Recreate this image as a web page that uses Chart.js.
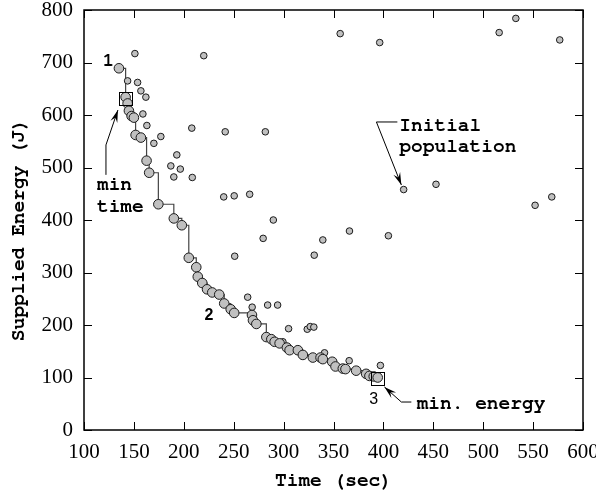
<!DOCTYPE html>
<html>
<head>
<meta charset="utf-8">
<script src="https://cdn.jsdelivr.net/npm/chart.js@4.4.1/dist/chart.umd.min.js"></script>
<style>
  body { margin: 0; background: #fff; }
  canvas { display: block; }
</style>
</head>
<body>
<canvas id="chart" width="596" height="490"></canvas>
<script>
// axis ticks
const xTicks = [100, 150, 200, 250, 300, 350, 400, 450, 500, 550, 600];
const yTicks = [0, 100, 200, 300, 400, 500, 600, 700, 800];

// final front (big circles, joined by the step line)
const frontTime = [135, 141.7, 143.7, 145, 147.7, 150, 151.7, 157, 162.7, 165.3,
  174.5, 190, 198, 205, 212.5, 214, 218.5, 223.3, 228.5, 235.5,
  240.5, 247, 250.5, 268.3, 269.3, 272.7, 282.7, 287.7, 291, 296,
  303.3, 306, 314.3, 319.3, 329.3, 337, 339.3, 348.7, 352, 359.3,
  362, 372.7, 382.7, 386, 390.3, 394.3];
const frontEnergy = [689, 634, 622, 608, 598, 595, 562, 557, 513, 490,
  430, 403, 390, 328, 310, 292, 280, 268, 262, 258,
  241, 230, 223, 219, 209, 202, 177, 173, 168, 165,
  157, 152, 152, 143, 138, 138, 135, 130, 121, 117,
  116, 113, 107, 103, 102, 100];

// other solutions (small circles)
const popTime = [151, 220, 143.7, 153.7, 157, 162, 159, 163, 208, 241.5,
  281.7, 177, 170, 193, 187, 196.5, 190, 208.5, 240, 250.5,
  266, 289.7, 279.5, 339.3, 330.7, 251, 366, 405, 264, 268.5,
  284, 294, 305, 323.7, 326.7, 330.3, 299.3, 341, 365.7, 397,
  356.7, 396.3, 516, 532.7, 576.7, 420.3, 452.7, 552, 568.7];
const popEnergy = [717, 713, 665, 662, 646, 634, 602, 580, 575, 568,
  568, 559, 546, 524, 503, 497, 482, 481, 444, 446,
  449, 400, 365, 362, 333, 331, 379, 370, 253, 234,
  238, 238, 193, 192, 197, 196, 168, 147, 132, 123,
  755, 738, 757, 784, 743, 458, 468, 428, 444];

// annotations, in data units
const MONO = '"FreeMono", "Liberation Mono", monospace';
const SERIF = '"Liberation Serif", "Times New Roman", serif';
const SANS = '"Liberation Sans", Arial, sans-serif';
const labels = [
  { text: '1', x: 124.5, y: 705, font: 'bold 19.5px ' + MONO, align: 'center' },
  { text: 'min', x: 113, y: 468, font: 'bold 19.5px ' + MONO, align: 'left' },
  { text: 'time', x: 113, y: 426, font: 'bold 19.5px ' + MONO, align: 'left' },
  { text: 'Initial', x: 416, y: 581, font: 'bold 19.5px ' + MONO, align: 'left' },
  { text: 'population', x: 416, y: 540, font: 'bold 19.5px ' + MONO, align: 'left' },
  { text: '2', x: 225.3, y: 218, font: 'bold 16px ' + SANS, align: 'center' },
  { text: '3', x: 390.3, y: 58.5, font: '16px ' + SANS, align: 'center' },
  { text: 'min. energy', x: 433.3, y: 51, font: 'bold 19.5px ' + MONO, align: 'left' },
];
const arrows = [
  [[122, 486], [122, 543], [134, 609.5]],
  [[414, 586.7], [393, 586.7], [418, 466.7]],
  [[428, 53.3], [418, 53.3], [401, 82]],
];
const boxes = [[142, 632], [394, 98.5]];

const decorations = {
  id: 'decorations',
  afterDraw(chart) {
    const { ctx, chartArea: a, scales: { x, y } } = chart;
    ctx.save();
    ctx.strokeStyle = '#000';
    ctx.fillStyle = '#000';

    // frame
    ctx.lineWidth = 1.5;
    ctx.strokeRect(a.left, a.top, a.right - a.left, a.bottom - a.top);

    // inward ticks on all sides
    ctx.lineWidth = 1;
    ctx.beginPath();
    xTicks.forEach(v => {
      const px = Math.round(x.getPixelForValue(v)) + 0.5;
      ctx.moveTo(px, a.bottom); ctx.lineTo(px, a.bottom - 8);
      ctx.moveTo(px, a.top); ctx.lineTo(px, a.top + 8);
    });
    yTicks.forEach(v => {
      const py = Math.round(y.getPixelForValue(v)) + 0.5;
      ctx.moveTo(a.left, py); ctx.lineTo(a.left + 8, py);
      ctx.moveTo(a.right, py); ctx.lineTo(a.right - 8, py);
    });
    ctx.stroke();

    // boxes at the two extremes
    boxes.forEach(([bx, by]) => {
      const px = x.getPixelForValue(bx), py = y.getPixelForValue(by);
      ctx.strokeRect(Math.round(px - 6.5) + 0.5, Math.round(py - 6.5) + 0.5, 13, 13);
    });

    // arrows
    arrows.forEach(path => {
      const pts = path.map(([vx, vy]) => [x.getPixelForValue(vx), y.getPixelForValue(vy)]);
      ctx.beginPath();
      ctx.moveTo(pts[0][0], pts[0][1]);
      for (let i = 1; i < pts.length; i++) ctx.lineTo(pts[i][0], pts[i][1]);
      ctx.stroke();
      const [tx, ty] = pts[pts.length - 1];
      const [fx, fy] = pts[pts.length - 2];
      const ang = Math.atan2(ty - fy, tx - fx);
      const len = 13, half = 0.28;
      ctx.beginPath();
      ctx.moveTo(tx, ty);
      ctx.lineTo(tx - len * Math.cos(ang - half), ty - len * Math.sin(ang - half));
      ctx.lineTo(tx - 0.6 * len * Math.cos(ang), ty - 0.6 * len * Math.sin(ang));
      ctx.lineTo(tx - len * Math.cos(ang + half), ty - len * Math.sin(ang + half));
      ctx.closePath();
      ctx.fill();
    });

    // labels
    ctx.textBaseline = 'middle';
    labels.forEach(l => {
      ctx.font = l.font;
      ctx.textAlign = l.align;
      ctx.fillText(l.text, x.getPixelForValue(l.x), y.getPixelForValue(l.y));
    });

    // y axis title
    ctx.translate(18, 230);
    ctx.rotate(-Math.PI / 2);
    ctx.textAlign = 'center';
    ctx.font = 'bold 19.5px ' + MONO;
    ctx.fillText('Supplied Energy (J)', 0, 0);
    ctx.restore();
  }
};

const noPad = s => { s.paddingLeft = 0; s.paddingRight = 0; s.paddingTop = 0; s.paddingBottom = 0; };

function draw() {
  new Chart(document.getElementById('chart'), {
    type: 'scatter',
    data: {
      datasets: [
        {
          type: 'line',
          data: frontTime.map((t, i) => ({ x: t, y: frontEnergy[i] })),
          stepped: true,
          borderColor: '#444',
          borderWidth: 1.2,
          pointRadius: 0,
          fill: false,
          order: 3,
        },
        {
          data: popTime.map((t, i) => ({ x: t, y: popEnergy[i] })),
          backgroundColor: '#c0c0c0',
          borderColor: '#1a1a1a',
          borderWidth: 1,
          pointRadius: 3.3,
          order: 2,
        },
        {
          data: frontTime.map((t, i) => ({ x: t, y: frontEnergy[i] })),
          backgroundColor: '#c0c0c0',
          borderColor: '#1a1a1a',
          borderWidth: 1,
          pointRadius: 4.8,
          order: 1,
        },
      ]
    },
    options: {
      responsive: false,
      animation: false,
      events: [],
      layout: { padding: { left: 0, right: 13, top: 10, bottom: 0 } },
      plugins: { legend: { display: false }, tooltip: { enabled: false } },
      scales: {
        x: {
          type: 'linear',
          min: 100,
          max: 600,
          afterBuildTicks: s => { s.ticks = xTicks.map(v => ({ value: v })); },
          afterFit: s => { s.height = 60; noPad(s); },
          grid: { display: false, drawTicks: false },
          border: { display: false },
          ticks: {
            padding: 10,
            color: '#000',
            maxRotation: 0,
            autoSkip: false,
            font: { family: SERIF, size: 21 },
          },
          title: {
            display: true,
            text: 'Time (sec)',
            color: '#000',
            padding: 0,
            font: { family: MONO, size: 19.5, weight: 'bold', lineHeight: 1 },
          },
        },
        y: {
          type: 'linear',
          min: 0,
          max: 800,
          afterBuildTicks: s => { s.ticks = yTicks.map(v => ({ value: v })); },
          afterFit: s => { s.width = 84; noPad(s); },
          grid: { display: false, drawTicks: false },
          border: { display: false },
          ticks: {
            padding: 11,
            color: '#000',
            autoSkip: false,
            font: { family: SERIF, size: 21 },
          },
        },
      },
    },
    plugins: [decorations],
  });
}

Promise.all([
  document.fonts.load('21px "Liberation Serif"'),
  document.fonts.load('bold 19.5px "FreeMono"'),
  document.fonts.load('bold 16px "Liberation Sans"'),
]).catch(() => {}).then(draw);
</script>
</body>
</html>
